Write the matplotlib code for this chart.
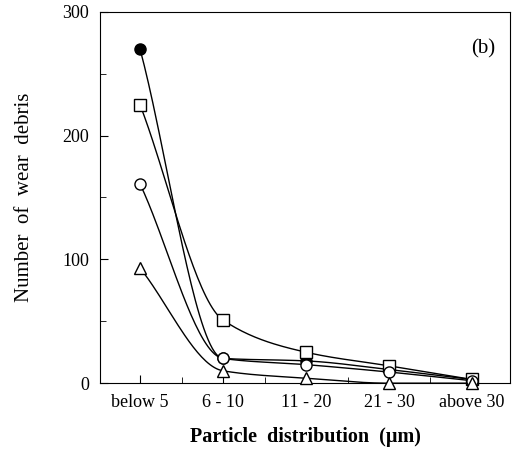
import matplotlib
matplotlib.use('Agg')
import matplotlib.pyplot as plt
from matplotlib.ticker import MultipleLocator
import numpy as np

categories = ['below 5', '6 - 10', '11 - 20', '21 - 30', 'above 30']
filled_circle = [270, 20, 18, 11, 3]
square = [225, 51, 25, 14, 3]
circle = [161, 20, 15, 9, 2]
triangle = [93, 10, 4, 0, 0]


def smooth(y, n=40):
    # monotone cubic (Fritsch-Carlson) just for drawing the curve
    x = np.arange(len(y), dtype=float)
    y = np.asarray(y, dtype=float)
    d = np.diff(y)
    m = np.zeros_like(y)
    m[0], m[-1] = d[0], d[-1]
    for i in range(1, len(y) - 1):
        if d[i - 1] * d[i] > 0:
            m[i] = 2 / (1 / d[i - 1] + 1 / d[i])
    xs, ys = [], []
    for i in range(len(y) - 1):
        t = np.linspace(0, 1, n)
        h00 = 2*t**3 - 3*t**2 + 1
        h10 = t**3 - 2*t**2 + t
        h01 = -2*t**3 + 3*t**2
        h11 = t**3 - t**2
        xs.append(x[i] + t)
        ys.append(h00*y[i] + h10*m[i] + h01*y[i+1] + h11*m[i+1])
    return np.concatenate(xs), np.concatenate(ys)


plt.rcParams['font.family'] = ['Liberation Serif', 'DejaVu Serif']

fig = plt.figure(figsize=(5.19, 4.54), dpi=100)
ax = fig.add_axes([0.193, 0.156, 0.790, 0.818])

xi = np.arange(len(categories))
series = [(filled_circle, 'o', 'k'), (square, 's', 'w'),
          (circle, 'o', 'w'), (triangle, '^', 'w')]
for vals, mk, fc in series:
    sx, sy = smooth(vals)
    ax.plot(sx, sy, color='k', linewidth=1.0)
    ax.plot(xi, vals, linestyle='none', marker=mk, markersize=8,
            markerfacecolor=fc, markeredgecolor='k', markeredgewidth=1.0,
            clip_on=False, zorder=3)

ax.set_xlim(-0.48, 4.46)
ax.set_ylim(0, 300)
ax.set_xticks(xi)
ax.set_xticklabels(categories)
ax.xaxis.set_minor_locator(MultipleLocator(0.5))
ax.yaxis.set_major_locator(MultipleLocator(100))
ax.yaxis.set_minor_locator(MultipleLocator(50))
ax.tick_params(which='both', direction='in', labelsize=13, pad=8)
ax.tick_params(which='major', length=6)
ax.tick_params(which='minor', length=4)

ax.set_xlabel('Particle  distribution  (μm)', fontsize=14.5, fontweight='bold', labelpad=11)
ax.set_ylabel('Number  of  wear  debris', fontsize=15, labelpad=20)
ax.text(0.963, 0.90, '(b)', transform=ax.transAxes, ha='right', va='center', fontsize=15)

fig.savefig('out.png', dpi=100)
